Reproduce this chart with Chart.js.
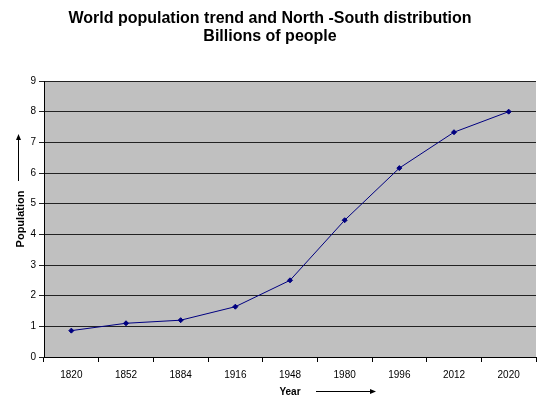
<!DOCTYPE html>
<html>
<head>
<meta charset="utf-8">
<script src="https://cdn.jsdelivr.net/npm/chart.js@4/dist/chart.umd.min.js"></script>
<style>
    html, body { margin: 0; padding: 0; background: #fff; }
    #wrap { width: 541px; height: 398px; }
</style>
</head>
<body>
<div id="wrap"><canvas id="chart"></canvas></div>
<script>
const years = ['1820', '1852', '1884', '1916', '1948', '1980', '1996', '2012', '2020'];
const population = [0.86, 1.1, 1.2, 1.64, 2.5, 4.46, 6.16, 7.33, 8.0];
const titleLines = ['World population trend and North -South distribution', 'Billions of people'];

const FONT = 'Arial, "Liberation Sans", sans-serif';

// gray plot area like the old spreadsheet charts
const plotBackground = {
    id: 'plotBackground',
    beforeDraw(chart) {
        const {ctx, chartArea: a} = chart;
        ctx.save();
        ctx.fillStyle = '#C0C0C0';
        ctx.fillRect(a.left, a.top, a.right - a.left, a.bottom - a.top);
        ctx.restore();
    }
};

// the little arrows next to the axis titles
const axisArrows = {
    id: 'axisArrows',
    afterDraw(chart) {
        const ctx = chart.ctx;
        const a = chart.chartArea;
        const midY = (a.top + a.bottom) / 2;
        const midX = (a.left + a.right) / 2;
        ctx.save();
        ctx.strokeStyle = '#000';
        ctx.fillStyle = '#000';
        ctx.lineWidth = 1;
        // vertical arrow above "Population"
        let x = 18.5, y0 = midY - 38, y1 = midY - 85;
        ctx.beginPath();
        ctx.moveTo(x, y0);
        ctx.lineTo(x, y1 + 4);
        ctx.stroke();
        ctx.beginPath();
        ctx.moveTo(x, y1);
        ctx.lineTo(x - 2.5, y1 + 6);
        ctx.lineTo(x + 2.5, y1 + 6);
        ctx.closePath();
        ctx.fill();
        // horizontal arrow after "Year"
        let y = 391.5, x0 = midX + 26, x1 = midX + 86;
        ctx.beginPath();
        ctx.moveTo(x0, y);
        ctx.lineTo(x1 - 4, y);
        ctx.stroke();
        ctx.beginPath();
        ctx.moveTo(x1, y);
        ctx.lineTo(x1 - 6, y - 2.5);
        ctx.lineTo(x1 - 6, y + 2.5);
        ctx.closePath();
        ctx.fill();
        ctx.restore();
    }
};

new Chart(document.getElementById('chart'), {
    type: 'line',
    data: {
        labels: years,
        datasets: [{
            data: population,
            borderColor: '#000080',
            backgroundColor: '#000080',
            borderWidth: 1,
            pointStyle: 'rectRot',
            pointRadius: 2.5,
            pointBorderWidth: 1,
            tension: 0,
        }]
    },
    options: {
        responsive: true,
        maintainAspectRatio: false,
        animation: false,
        layout: {
            padding: {left: 0, right: 1, top: 0, bottom: 0}
        },
        plugins: {
            legend: {display: false},
            tooltip: {enabled: false},
            title: {
                display: true,
                text: titleLines,
                color: '#000',
                font: {family: FONT, size: 16, weight: 'bold', lineHeight: 1.125},
                padding: {top: 10, bottom: 35},
            },
        },
        scales: {
            x: {
                offset: true,
                grid: {
                    offset: true,
                    drawOnChartArea: false,
                    color: '#000',
                    tickLength: 5,
                },
                border: {color: '#000'},
                ticks: {
                    color: '#000',
                    font: {family: FONT, size: 10},
                    padding: 7,
                    maxRotation: 0,
                },
                title: {
                    display: true,
                    text: 'Year',
                    color: '#000',
                    font: {family: FONT, size: 10, weight: 'bold', lineHeight: 1.2},
                    padding: {top: 0, bottom: 0},
                },
                afterFit(scale) {
                    scale.height = 41;
                },
            },
            y: {
                min: 0,
                max: 9,
                ticks: {
                    stepSize: 1,
                    color: '#000',
                    font: {family: FONT, size: 10},
                    padding: 3,
                },
                grid: {
                    color: '#222',
                    tickLength: 5,
                },
                border: {color: '#000'},
                title: {
                    display: true,
                    text: 'Population',
                    color: '#000',
                    font: {family: FONT, size: 11, weight: 'bold', lineHeight: 1.2},
                    padding: {top: 14, bottom: 0},
                },
                afterFit(scale) {
                    scale.width = 44;
                },
            }
        }
    },
    plugins: [plotBackground, axisArrows]
});
</script>
</body>
</html>
